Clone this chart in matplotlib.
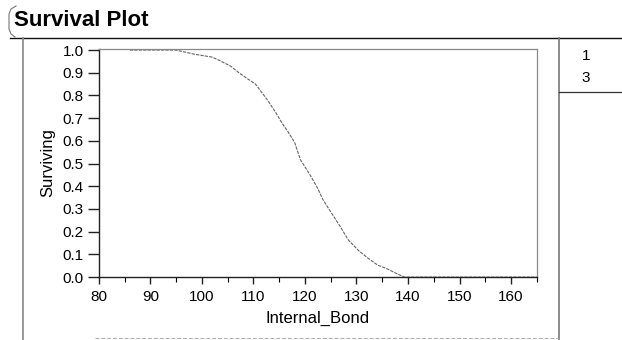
import matplotlib
matplotlib.use("Agg")
import matplotlib.pyplot as plt
from matplotlib.lines import Line2D

plt.rcParams["font.family"] = ["Liberation Sans", "DejaVu Sans"]

# Kaplan-Meier estimate
bond = [86.0, 95.0, 98.5, 102.0, 103.7, 105.6, 107.2, 109.1, 110.4, 111.6,
        112.9, 114.3, 115.5, 116.8, 118.0, 119.1, 120.1, 121.2, 122.4, 123.5,
        124.5, 125.5, 127.0, 128.4, 130.3, 132.2, 134.1, 136.1, 137.2, 139.3,
        165.0]
surviving = [1.0, 1.0, 0.982, 0.969, 0.951, 0.929, 0.90, 0.87, 0.85, 0.814,
             0.774, 0.726, 0.68, 0.637, 0.593, 0.518, 0.482, 0.442, 0.394, 0.341,
             0.305, 0.27, 0.217, 0.164, 0.119, 0.084, 0.053, 0.035, 0.022, 0.0,
             0.0]

x_ticks = [80, 90, 100, 110, 120, 130, 140, 150, 160]
y_ticks = [0.0, 0.1, 0.2, 0.3, 0.4, 0.5, 0.6, 0.7, 0.8, 0.9, 1.0]
legend_labels = ["1", "3"]

W, H = 622, 340
fig = plt.figure(figsize=(W / 100, H / 100), dpi=100)
ax = fig.add_axes([0.159, 0.185, 0.704, 0.671])

ax.plot(bond, surviving, color="#666666", lw=0.8, ls=(0, (3, 1)))

ax.set_xlim(80, 165)
ax.set_ylim(0, 1.005)
ax.set_xticks(x_ticks)
ax.set_xticks([x + 5 for x in x_ticks], minor=True)
ax.set_yticks(y_ticks)
ax.set_yticklabels([f"{v:.1f}" for v in y_ticks])
ax.tick_params(axis="both", direction="out", width=1.0, labelsize=11,
               color="#222222")
ax.tick_params(axis="y", length=8, pad=3)
ax.tick_params(axis="x", length=5, pad=4)
ax.tick_params(axis="x", which="minor", direction="out", length=3.5, width=0.8)
ax.set_xlabel("Internal_Bond", fontsize=12, labelpad=5)
ax.set_ylabel("Surviving", fontsize=12, labelpad=5)

for side in ["left", "bottom"]:
    ax.spines[side].set_color("#222222")
    ax.spines[side].set_linewidth(1.0)
for side in ["top", "right"]:
    ax.spines[side].set_color("#888888")
    ax.spines[side].set_linewidth(0.9)


def px(x, y):
    return x / W, 1 - y / H


# report frame around the plot
fig.text(*px(14, 20), "Survival Plot", fontsize=16, fontweight="bold",
         va="center", ha="left")
bx, by = zip(px(16, 6), px(11, 9), px(9, 14), px(9, 29), px(11, 34), px(15, 37))
fig.add_artist(Line2D(bx, by, transform=fig.transFigure, color="#777777", lw=0.8))
lx, ly = zip(px(10, 38), px(622, 38))
fig.add_artist(Line2D(lx, ly, transform=fig.transFigure, color="#111111", lw=1.0))
lx, ly = zip(px(23, 38), px(23, 340))
fig.add_artist(Line2D(lx, ly, transform=fig.transFigure, color="#888888", lw=1.2))
lx, ly = zip(px(559, 38), px(559, 340))
fig.add_artist(Line2D(lx, ly, transform=fig.transFigure, color="#777777", lw=1.2))
lx, ly = zip(px(559, 92), px(622, 92))
fig.add_artist(Line2D(lx, ly, transform=fig.transFigure, color="#333333", lw=0.9))
lx, ly = zip(px(95, 338), px(559, 338))
fig.add_artist(Line2D(lx, ly, transform=fig.transFigure, color="#aaaaaa", lw=0.7,
                      ls=(0, (4, 2))))

for i, lab in enumerate(legend_labels):
    fig.text(*px(586, 56 + i * 22), lab, fontsize=11, ha="center", va="center")

fig.savefig("out.png", dpi=100)
